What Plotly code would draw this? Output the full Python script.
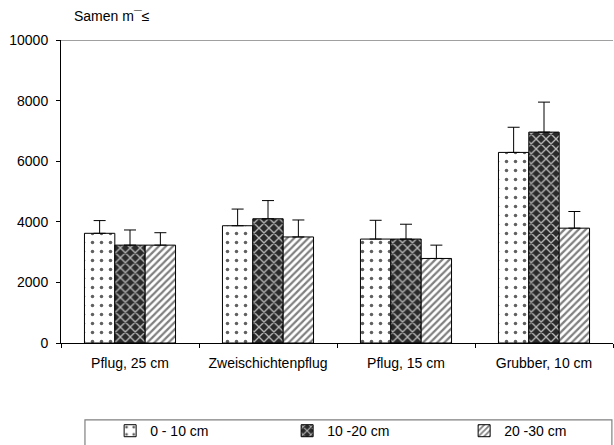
import plotly.graph_objects as go

categories = ["Pflug, 25 cm", "Zweischichtenpflug", "Pflug, 15 cm", "Grubber, 10 cm"]
series_names = ["0 - 10 cm", "10 -20 cm", "20 -30 cm"]
s1 = [3620, 3870, 3430, 6290]
e1 = [420, 550, 620, 830]
s2 = [3230, 4100, 3430, 6960]
e2 = [500, 600, 490, 990]
s3 = [3230, 3500, 2790, 3790]
e3 = [410, 560, 440, 550]
y_ticks = [0, 2000, 4000, 6000, 8000, 10000]
y_ticktext = ["0", "2000", "4000", "6000", "8000", "10000"]

FONT = "Liberation Sans, Arial, sans-serif"

patterns = [
    dict(shape=".", bgcolor="white", fgcolor="#606060", size=9, solidity=0.12, fillmode="replace"),
    dict(shape="x", bgcolor="#2a2a2a", fgcolor="#b8b8b8", size=7, solidity=0.35, fillmode="replace"),
    dict(shape="/", bgcolor="white", fgcolor="#808080", size=5, solidity=0.45, fillmode="replace"),
]

fig = go.Figure()
for name, vals, errs, pat in zip(series_names, [s1, s2, s3], [e1, e2, e3], patterns):
    fig.add_trace(go.Bar(
        x=categories, y=vals, name=name,
        marker=dict(color="white", pattern=pat, line=dict(color="black", width=1)),
        error_y=dict(type="data", array=errs, arrayminus=[0] * len(errs), symmetric=False,
                     color="black", thickness=1, width=6),
    ))

fig.add_shape(type="line", xref="paper", yref="y", x0=0, x1=1, y0=10000, y1=10000,
              line=dict(color="#808080", width=1.5))
fig.add_shape(type="rect", xref="paper", yref="paper", x0=0.0434, x1=0.998,
              y0=-0.40, y1=-0.254, line=dict(color="#808080", width=1.2))

fig.add_annotation(text="Samen m¯≤", xref="paper", yref="paper", x=0, y=1.045,
                   xanchor="left", yanchor="bottom", xshift=11, showarrow=False,
                   font=dict(family=FONT, size=14, color="black"))

fig.update_layout(
    width=614, height=445,
    margin=dict(l=61, r=1, t=40, b=102, autoexpand=False),
    paper_bgcolor="white", plot_bgcolor="white",
    barmode="group", bargap=0.34, bargroupgap=0,
    font=dict(family=FONT, size=14, color="black"),
    showlegend=True,
    legend=dict(orientation="h", x=0.089, xanchor="left", y=-0.238, yanchor="top",
                entrywidth=132, entrywidthmode="pixels",
                font=dict(family=FONT, size=14), bgcolor="rgba(0,0,0,0)"),
    xaxis=dict(showline=True, linecolor="black", linewidth=1, ticks="outside",
               tickson="boundaries", ticklen=4, tickcolor="black", showgrid=False,
               ticklabelstandoff=7, tickfont=dict(family=FONT, size=14)),
    yaxis=dict(range=[0, 10000], tickvals=y_ticks, ticktext=y_ticktext, showline=True,
               linecolor="black", linewidth=1, ticks="outside", ticklen=4,
               tickcolor="black", showgrid=False, zeroline=False,
               ticklabelstandoff=5, tickfont=dict(family=FONT, size=14)),
)

fig.write_html("out.html", config={"displayModeBar": False},
               post_script="document.body.style.margin='0';")
